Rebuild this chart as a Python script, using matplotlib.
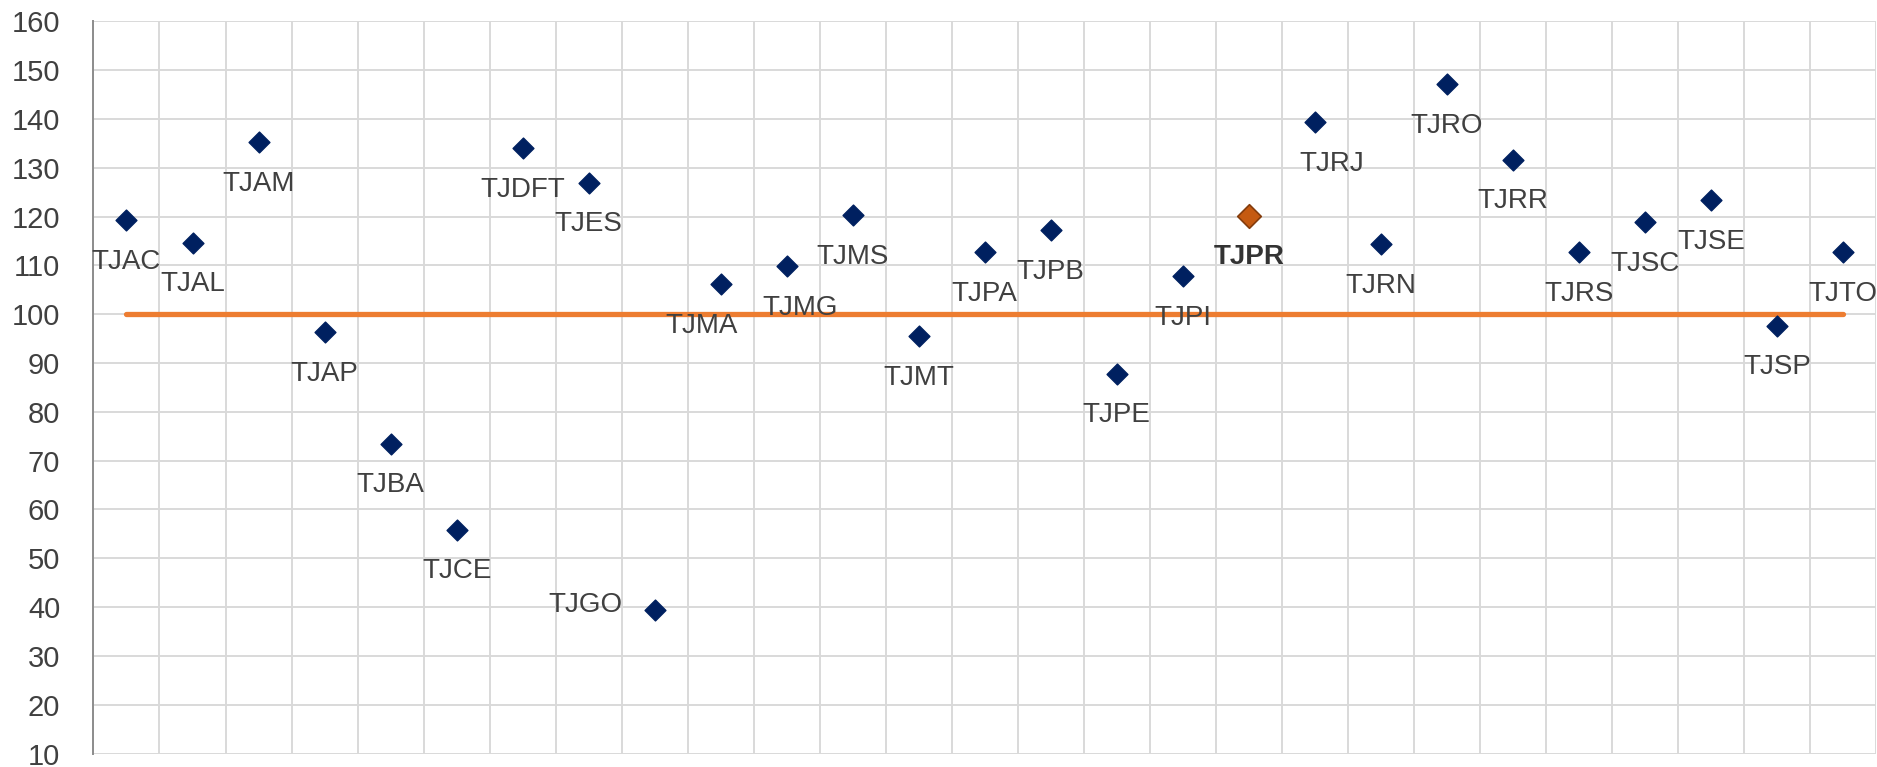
import matplotlib

matplotlib.use("Agg")
import matplotlib.pyplot as plt
import numpy as np
from matplotlib.path import Path

# tribunal index values (reference = 100)
tribunals = [
    "TJAC", "TJAL", "TJAM", "TJAP", "TJBA", "TJCE", "TJDFT", "TJES", "TJGO",
    "TJMA", "TJMG", "TJMS", "TJMT", "TJPA", "TJPB", "TJPE", "TJPI", "TJPR",
    "TJRJ", "TJRN", "TJRO", "TJRR", "TJRS", "TJSC", "TJSE", "TJSP", "TJTO",
]
values = [
    119.3, 114.7, 135.3, 96.3, 73.5, 55.9, 134.1, 127.0, 39.5,
    106.2, 109.9, 120.3, 95.5, 112.7, 117.2, 87.8, 107.8, 120.2,
    139.4, 114.4, 147.2, 131.7, 112.7, 118.9, 123.4, 97.7, 112.7,
]
highlight = "TJPR"
reference = 100
y_ticks = list(range(10, 161, 10))

# label nudges in points (most labels sit below the marker)
label_dx = {"TJMA": -14, "TJMG": 10, "TJRJ": 12}

NAVY = "#002060"
ORANGE = "#ED7D31"
HL_FILL = "#C55A11"
HL_EDGE = "#843C0C"
GRID = "#D9D9D9"
TEXT = "#404040"
LABEL_FONT = ["Liberation Sans Narrow", "Liberation Sans", "DejaVu Sans"]
TICK_FONT = ["Liberation Sans", "DejaVu Sans"]

diamond = Path([(0, 1), (1, 0), (0, -1), (-1, 0), (0, 1)],
               [Path.MOVETO, Path.LINETO, Path.LINETO, Path.LINETO, Path.CLOSEPOLY])

fig = plt.figure(figsize=(18.77, 7.67), dpi=100)
ax = fig.add_axes([0.0498, 0.0176, 0.9497, 0.9544])

x = np.arange(1, len(tribunals) + 1)
vals = np.array(values)
is_hl = np.array([t == highlight for t in tribunals])

ax.plot(x[[0, -1]], [reference, reference], color=ORANGE, lw=3.8,
        solid_capstyle="round", zorder=3)
ax.plot(x[~is_hl], vals[~is_hl], ls="none", marker=diamond, ms=15,
        color=NAVY, zorder=4)
ax.plot(x[is_hl], vals[is_hl], ls="none", marker=diamond, ms=17,
        markerfacecolor=HL_FILL, markeredgecolor=HL_EDGE, markeredgewidth=1.2, zorder=4)

for xi, t, v in zip(x, tribunals, values):
    if t == "TJGO":
        ax.annotate(t, (xi, v), xytext=(-23, 3), textcoords="offset points",
                    ha="right", va="center", fontsize=20, color=TEXT, family=LABEL_FONT)
        continue
    ax.annotate(t, (xi, v), xytext=(label_dx.get(t, 0), -30), textcoords="offset points",
                ha="center", va="center", fontsize=20, color="#333333" if t == highlight else TEXT,
                fontweight="bold" if t == highlight else "normal", family=LABEL_FONT)

ax.set_xlim(0.5, len(tribunals) + 0.5)
ax.set_ylim(y_ticks[0], y_ticks[-1])
ax.set_yticks(y_ticks)
ax.set_xticks(np.arange(0.5, len(tribunals) + 1, 1))
ax.set_xticklabels([])
ax.tick_params(axis="both", length=0)
ax.tick_params(axis="y", pad=24, labelsize=21, labelcolor=TEXT)
for lab in ax.get_yticklabels():
    lab.set_family(TICK_FONT)
ax.grid(True, color=GRID, lw=1.4, zorder=0)
ax.set_axisbelow(True)
for side in ["top", "right", "bottom"]:
    ax.spines[side].set_visible(False)
ax.spines["left"].set_color("#8C8C8C")
ax.spines["left"].set_linewidth(1.4)

fig.savefig("out.png", dpi=100)
